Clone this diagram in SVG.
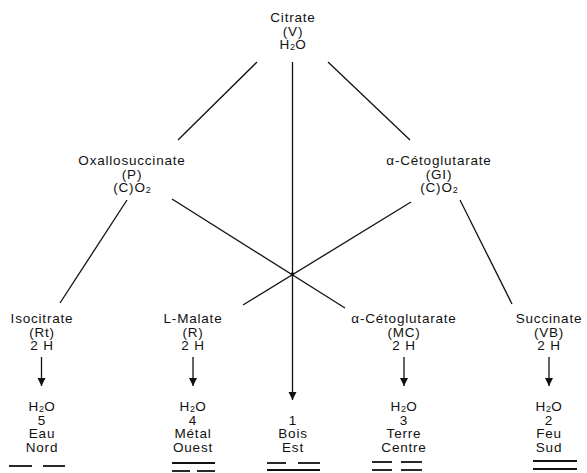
<svg xmlns="http://www.w3.org/2000/svg" width="587" height="473" viewBox="0 0 587 473">
<defs>
<style>
text{font-family:"Liberation Sans",Arial,sans-serif;font-size:13.5px;letter-spacing:0.8px;fill:#111;text-anchor:middle}
.s{font-size:9px;letter-spacing:0}
.ln{stroke:#111;stroke-width:1.3;fill:none}
.tg{stroke:#111;stroke-width:1.8;fill:none}
</style>
<marker id="ah" viewBox="0 0 8 11" refX="8" refY="5.5" markerWidth="8" markerHeight="11" markerUnits="userSpaceOnUse" orient="auto">
<path d="M0,1.5 L8,5.5 L0,9.5 Z" fill="#111"/>
</marker>
</defs>
<rect width="587" height="473" fill="#fff"/>
<g id="connectors">
<line class="ln" x1="257" y1="62" x2="178" y2="140"/>
<line class="ln" x1="328" y1="62" x2="410" y2="140"/>
<line class="ln" x1="292.5" y1="62" x2="292.5" y2="400" marker-end="url(#ah)"/>
<line class="ln" x1="127" y1="200" x2="60" y2="303"/>
<line class="ln" x1="172" y1="199" x2="345" y2="308"/>
<line class="ln" x1="411" y1="202" x2="243" y2="305"/>
<line class="ln" x1="460" y1="200" x2="512" y2="304"/>
<circle cx="292.5" cy="274" r="1.8" fill="#111"/>
<line class="ln" x1="41.5" y1="357" x2="41.5" y2="386" marker-end="url(#ah)"/>
<line class="ln" x1="193" y1="357" x2="193" y2="386" marker-end="url(#ah)"/>
<line class="ln" x1="404" y1="357" x2="404" y2="386" marker-end="url(#ah)"/>
<line class="ln" x1="549" y1="357" x2="549" y2="386" marker-end="url(#ah)"/>
</g>
<g id="citrate">
<text x="293" y="22">Citrate</text>
<text x="293" y="35.5">(V)</text>
<text x="293" y="49">H<tspan class="s" dy="1">2</tspan><tspan dy="-1">O</tspan></text>
</g>
<g id="oxallosuccinate">
<text x="132" y="165">Oxallosuccinate</text>
<text x="132" y="178.5">(P)</text>
<text x="132" y="192">(C)O<tspan class="s" dy="1">2</tspan></text>
</g>
<g id="cetoglutarate-gi">
<text x="439" y="165">α-Cétoglutarate</text>
<text x="439" y="178.5">(GI)</text>
<text x="439" y="192">(C)O<tspan class="s" dy="1">2</tspan></text>
</g>
<g id="isocitrate">
<text x="42" y="323">Isocitrate</text>
<text x="42" y="336.5">(Rt)</text>
<text x="42" y="350">2 H</text>
<text x="42" y="411">H<tspan class="s" dy="1">2</tspan><tspan dy="-1">O</tspan></text>
<text x="42" y="424.5">5</text>
<text x="42" y="438">Eau</text>
<text x="42" y="451.5">Nord</text>
<line class="tg" x1="9" y1="466" x2="32" y2="466"/>
<line class="tg" x1="43" y1="466" x2="65" y2="466"/>
</g>
<g id="l-malate">
<text x="193" y="323">L-Malate</text>
<text x="193" y="336.5">(R)</text>
<text x="193" y="350">2 H</text>
<text x="193" y="411">H<tspan class="s" dy="1">2</tspan><tspan dy="-1">O</tspan></text>
<text x="193" y="424.5">4</text>
<text x="193" y="438">Métal</text>
<text x="193" y="451.5">Ouest</text>
<line class="tg" x1="172" y1="463" x2="215" y2="463"/>
<line class="tg" x1="172" y1="471" x2="190" y2="471"/>
<line class="tg" x1="197" y1="471" x2="215" y2="471"/>
</g>
<g id="bois">
<text x="293" y="424.5">1</text>
<text x="293" y="438">Bois</text>
<text x="293" y="451.5">Est</text>
<line class="tg" x1="267" y1="463" x2="286" y2="463"/>
<line class="tg" x1="298" y1="463" x2="320" y2="463"/>
<line class="tg" x1="267" y1="470" x2="320" y2="470"/>
</g>
<g id="cetoglutarate-mc">
<text x="404" y="323">α-Cétoglutarate</text>
<text x="404" y="336.5">(MC)</text>
<text x="404" y="350">2 H</text>
<text x="404" y="411">H<tspan class="s" dy="1">2</tspan><tspan dy="-1">O</tspan></text>
<text x="404" y="424.5">3</text>
<text x="404" y="438">Terre</text>
<text x="404" y="451.5">Centre</text>
<line class="tg" x1="372" y1="462" x2="392" y2="462"/>
<line class="tg" x1="401" y1="462" x2="422" y2="462"/>
<line class="tg" x1="372" y1="470" x2="392" y2="470"/>
<line class="tg" x1="401" y1="470" x2="422" y2="470"/>
</g>
<g id="succinate">
<text x="549" y="323">Succinate</text>
<text x="549" y="336.5">(VB)</text>
<text x="549" y="350">2 H</text>
<text x="549" y="411">H<tspan class="s" dy="1">2</tspan><tspan dy="-1">O</tspan></text>
<text x="549" y="424.5">2</text>
<text x="549" y="438">Feu</text>
<text x="549" y="451.5">Sud</text>
<line class="tg" x1="533" y1="461" x2="577" y2="461"/>
<line class="tg" x1="533" y1="469" x2="577" y2="469"/>
</g>
</svg>
